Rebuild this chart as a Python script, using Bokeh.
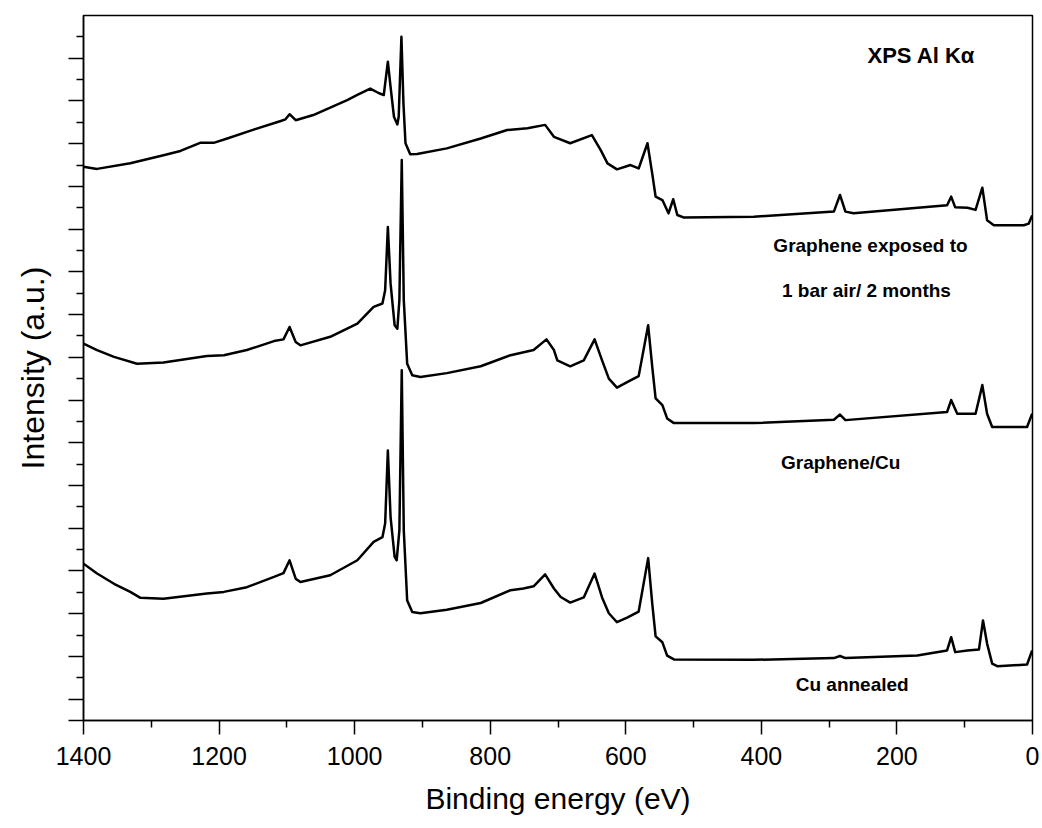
from bokeh.plotting import figure
from bokeh.models import Range1d, FixedTicker, Label
from bokeh.embed import file_html
from bokeh.resources import INLINE

# Binding energy (eV) and intensity (a.u., offset stacked) for each spectrum
air_x = [1400, 1380, 1331, 1282, 1257, 1228, 1208, 1188, 1149, 1109, 1102, 1096, 1087, 1061,
         1011, 996, 977, 964, 957, 951, 947, 942, 937, 935, 931, 928, 925, 918, 908, 864,
         814, 775, 745, 719, 706, 682, 650, 637, 627, 613, 593, 581, 568, 561, 556, 546,
         537, 530, 524, 514, 411, 293, 284, 276, 264, 126, 120, 114, 96, 84, 74, 67, 57,
         13, 5.5, 0.5]
air_y = [12.46, 12.41, 12.54, 12.73, 12.83, 13.02, 13.02, 13.12, 13.33, 13.53, 13.57, 13.69,
         13.55, 13.67, 14.02, 14.14, 14.29, 14.18, 14.14, 14.92, 14.33, 13.63, 13.45, 13.63,
         15.50, 13.94, 13.01, 12.75, 12.76, 12.89, 13.12, 13.32, 13.36, 13.44, 13.16, 13.01,
         13.20, 12.85, 12.54, 12.40, 12.50, 12.42, 13.01, 12.30, 11.76, 11.68, 11.37, 11.70,
         11.33, 11.27, 11.29, 11.41, 11.80, 11.41, 11.37, 11.56, 11.76, 11.51, 11.50, 11.45,
         11.97, 11.21, 11.09, 11.09, 11.13, 11.32]

gcu_x = [1400, 1380, 1355, 1321, 1282, 1218, 1193, 1159, 1119, 1105, 1096, 1087, 1080, 1036,
         996, 972, 959, 955, 951, 947, 941, 937, 934, 930.5, 927.5, 922.5, 915, 903, 864,
         814, 770, 736, 717, 706, 701, 682, 662, 646, 635, 625, 613, 598, 581, 567, 561,
         556, 546, 539, 529, 411, 293, 284, 276, 126, 120, 111, 84, 74, 67, 59.5, 8, 0.5]
gcu_y = [8.32, 8.17, 8.01, 7.85, 7.88, 8.03, 8.05, 8.17, 8.38, 8.42, 8.71, 8.36, 8.28, 8.48,
         8.79, 9.18, 9.26, 9.57, 11.05, 9.73, 8.75, 8.67, 9.34, 12.62, 9.34, 7.85, 7.58, 7.54,
         7.63, 7.79, 8.05, 8.17, 8.42, 8.17, 7.93, 7.79, 7.93, 8.42, 7.93, 7.50, 7.29, 7.42,
         7.56, 8.75, 7.78, 7.04, 6.88, 6.57, 6.46, 6.46, 6.54, 6.66, 6.53, 6.72, 7.00, 6.68,
         6.68, 7.35, 6.68, 6.37, 6.37, 6.68]

cu_x = [1400, 1380, 1355, 1331, 1316, 1282, 1218, 1193, 1159, 1119, 1105, 1096, 1087, 1080,
        1036, 996, 972, 959, 955, 951, 947, 941, 938, 934, 930.5, 927.5, 922.5, 915, 903,
        864, 814, 770, 751, 736, 719, 706, 696, 682, 662, 646, 635, 625, 613, 598, 581, 567,
        561, 556, 546, 539, 529, 411, 293, 284, 276, 170, 126, 120, 114, 96, 79, 73, 67,
        59.5, 52, 8, 0.5]
cu_y = [3.17, 2.94, 2.70, 2.51, 2.37, 2.35, 2.47, 2.51, 2.62, 2.86, 2.95, 3.25, 2.82, 2.74,
        2.90, 3.25, 3.68, 3.79, 4.11, 5.82, 4.26, 3.33, 3.25, 3.95, 7.70, 3.95, 2.31, 2.04,
        2.01, 2.09, 2.25, 2.55, 2.59, 2.64, 2.92, 2.59, 2.39, 2.26, 2.38, 2.94, 2.38, 2.01,
        1.80, 1.91, 2.05, 3.30, 2.24, 1.47, 1.33, 1.02, 0.93, 0.92, 0.96, 1.01, 0.96, 1.02,
        1.14, 1.45, 1.10, 1.14, 1.16, 1.84, 1.30, 0.83, 0.77, 0.81, 1.14]

x_major = [0, 200, 400, 600, 800, 1000, 1200, 1400]
x_minor = [100, 300, 500, 700, 900, 1100, 1300]
y_major = [-0.5] + list(range(0, 16))
y_minor = [i + 0.5 for i in range(0, 16)]

FONT = "Liberation Sans"

p = figure(width=1042, height=828, output_backend="svg", toolbar_location=None,
           x_range=Range1d(1400, 0), y_range=Range1d(-0.5, 16.0),
           min_border_left=83, min_border_right=10, min_border_top=15,
           min_border_bottom=108)
p.background_fill_color = "white"
p.border_fill_color = "white"
p.grid.visible = False
p.outline_line_color = "black"
p.outline_line_width = 1.5
p.outline_line_alpha = 1.0

for xs, ys in [(air_x, air_y), (gcu_x, gcu_y), (cu_x, cu_y)]:
    p.line(xs, ys, line_color="black", line_width=2.5, line_join="round")

xa = p.xaxis[0]
xa.ticker = FixedTicker(ticks=x_major, minor_ticks=x_minor)
xa.axis_label = "Binding energy (eV)"
xa.axis_label_text_font = FONT
xa.axis_label_text_font_size = "30px"
xa.axis_label_text_font_style = "normal"
xa.axis_label_text_color = "black"
xa.axis_label_standoff = 14
xa.major_label_text_font = FONT
xa.major_label_text_font_size = "25px"
xa.major_label_text_color = "black"
xa.major_label_standoff = 12
xa.major_tick_out = 14
xa.major_tick_in = 0
xa.minor_tick_out = 7
xa.minor_tick_in = 0
xa.axis_line_width = 1.5
xa.major_tick_line_width = 1.5
xa.minor_tick_line_width = 1.5
xa.axis_line_color = "black"
xa.major_tick_line_color = "black"
xa.minor_tick_line_color = "black"

ya = p.yaxis[0]
ya.ticker = FixedTicker(ticks=y_major, minor_ticks=y_minor)
ya.axis_label = "Intensity (a.u.)"
ya.axis_label_text_font = FONT
ya.axis_label_text_font_size = "32px"
ya.axis_label_text_font_style = "normal"
ya.axis_label_text_color = "black"
ya.axis_label_standoff = 18
ya.major_label_text_font_size = "0px"
ya.major_label_text_color = None
ya.major_label_standoff = 0
ya.major_tick_out = 15
ya.major_tick_in = 0
ya.minor_tick_out = 7
ya.minor_tick_in = 0
ya.axis_line_width = 1.5
ya.major_tick_line_width = 1.5
ya.minor_tick_line_width = 1.5
ya.axis_line_color = "black"
ya.major_tick_line_color = "black"
ya.minor_tick_line_color = "black"

labels = [
    ("XPS Al K\u03b1", 164, 15.07, "22px"),
    ("Graphene exposed to", 239, 10.62, "19px"),
    ("1 bar air/ 2 months", 245, 9.57, "19px"),
    ("Graphene/Cu", 283, 5.54, "19px"),
    ("Cu annealed", 266, 0.34, "19px"),
]
for txt, lx, ly, fs in labels:
    p.add_layout(Label(x=lx, y=ly, text=txt, text_font=FONT, text_font_size=fs,
                       text_font_style="bold", text_color="black",
                       text_align="center", text_baseline="middle"))

open("out.html", "w").write(file_html(p, INLINE))
